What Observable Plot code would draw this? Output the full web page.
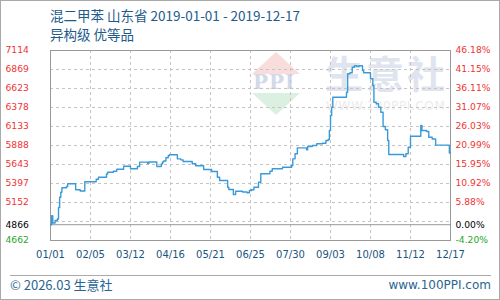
<!DOCTYPE html>
<html><head><meta charset="utf-8">
<script src="https://cdn.jsdelivr.net/npm/d3@7"></script>
<script src="https://cdn.jsdelivr.net/npm/@observablehq/plot@0.6"></script>
<style>
html,body{margin:0;padding:0;background:#fff;}
#wrap{position:relative;width:500px;height:300px;overflow:hidden;background:#fff;}
#chart{position:absolute;left:0;top:0;z-index:2;}
.abs{position:absolute;white-space:nowrap;}
.title{font-family:"Noto Sans CJK SC",sans-serif;font-size:13.5px;line-height:16px;color:#1e5b8c;}
.foot{font-family:"Noto Sans CJK SC",sans-serif;font-size:13px;line-height:16px;color:#2a6592;}
#border{position:absolute;left:0;top:0;width:500px;height:300px;box-sizing:border-box;border:1px solid #aaa;z-index:5;pointer-events:none;}
.wm{z-index:1;}
g[aria-label="pct"] text{letter-spacing:-0.5px;}
g[aria-label="xlab"] text{letter-spacing:0.2px;}
</style></head><body>
<div id="wrap">
  <div class="abs wm" style="left:252px;top:52px;width:0;height:0;border-left:24px solid transparent;border-right:24px solid transparent;border-bottom:22px solid #f9dcdc;"></div>
  <div class="abs wm" style="left:252px;top:93px;width:0;height:0;border-left:24px solid transparent;border-right:24px solid transparent;border-top:22px solid #dcf0e2;"></div>
  <div class="abs wm" style="left:253px;top:71px;font-family:'DejaVu Serif',serif;font-weight:bold;font-size:20px;line-height:22px;color:#d3d9e8;letter-spacing:1px;">PPI</div>
  <div class="abs wm" style="left:325px;top:50px;font-family:'Noto Sans CJK SC',sans-serif;font-weight:bold;font-size:38px;line-height:44px;color:#e0e4ee;letter-spacing:3px;">生意社</div>
  <div class="abs wm" style="left:326px;top:98px;font-family:'DejaVu Sans',sans-serif;font-size:12px;line-height:16px;color:#ebebeb;letter-spacing:0.6px;">WWW.100PPI.COM</div>
  <div id="chart"></div>
  <div class="abs title" style="left:50px;top:7px;z-index:3;">混二甲苯 山东省 2019-01-01 - 2019-12-17</div>
  <div class="abs title" style="left:50px;top:26px;z-index:3;">异构级 优等品</div>
  <div class="abs" style="left:10px;top:275px;width:481px;height:1px;background:#aaa;z-index:3;"></div>
  <div class="abs foot" style="left:10px;top:277px;z-index:3;">© 2026.03 生意社</div>
  <div class="abs foot" style="right:9px;top:277px;z-index:3;font-family:'DejaVu Sans',sans-serif;font-size:12px;">www.100PPI.com</div>
  <div id="border"></div>
</div>
<script>
// price series (change points, step-after)
const dates = ["01-01","01-02","01-03","01-05","01-07","01-08","01-09","01-10","01-11","01-15","01-16","01-23","01-27","01-31",
"02-10","02-12","02-19","02-20","02-25","02-28","03-06","03-12","03-18","03-20","03-27","03-28",
"04-04","04-08","04-09","04-10","04-12","04-14","04-15","04-22","04-25","04-27",
"05-05","05-08","05-15","05-22","05-27","05-29","06-05","06-06","06-10","06-12","06-18","06-22","06-24","06-26","06-28",
"07-02","07-04","07-12","07-14","07-23","07-31","08-01","08-03","08-05","08-13","08-14","08-18","08-22","08-27","08-30",
"09-01","09-02","09-03","09-04","09-05","09-17","09-18","09-20","09-22","09-24","09-26","09-28",
"10-01","10-02","10-08","10-10","10-11","10-13","10-15","10-17","10-19","10-21","10-23","10-24",
"11-06","11-08","11-10","11-12","11-21","11-22","11-26","11-28","12-01","12-04","12-16","12-17"];
const prices = [4866,4981,4888,4920,4940,5088,5221,5285,5342,5359,5394,5316,5301,5420,
5453,5479,5520,5543,5556,5582,5621,5587,5617,5673,5656,5675,
5617,5649,5675,5688,5729,5755,5768,5716,5703,5682,
5652,5626,5578,5553,5479,5436,5350,5320,5256,5298,5288,5278,5307,5316,5350,
5414,5523,5556,5587,5608,5630,5716,5781,5858,5833,5875,5888,5910,5918,5953,
5965,6082,6275,6382,6511,6576,6813,6826,6898,6917,6908,6917,
6856,6826,6749,6662,6447,6426,6382,6318,6133,6091,5953,5772,
5746,5781,5866,6008,6146,6082,6069,5995,5972,5893,5791,5791];

const xTickDates = ["2019-01-01","2019-02-05","2019-03-12","2019-04-16","2019-05-21","2019-06-25","2019-07-30","2019-09-03","2019-10-08","2019-11-12","2019-12-17"];
const xTickLabels = ["01/01","02/05","03/12","04/16","05/21","06/25","07/30","09/03","10/08","11/12","12/17"];
const yTickValues = [7114,6869,6623,6378,6133,5888,5643,5397,5152,4866,4662];
const yTickLabels = ["7114","6869","6623","6378","6133","5888","5643","5397","5152","4866","4662"];
const pctLabels = ["46.18%","41.15%","36.11%","31.07%","26.03%","20.99%","15.95%","10.92%","5.88%","0.00%","-4.20%"];
const gridValues = [6869,6623,6378,6133,5888,5643,5397,5152,4907];
const baseValue = 4866;

const data = dates.map((d,i)=>({date:new Date("2019-"+d), price:prices[i]}));
const xTicks = xTickDates.map((d,i)=>({date:new Date(d), label:xTickLabels[i]}));
const colorOf = (v)=> v>baseValue ? "#f03434" : (v===baseValue ? "#000" : "#2aa52a");
const yTicks = yTickValues.map((v,i)=>({v, label:yTickLabels[i], pct:pctLabels[i], c:colorOf(v)}));

const chart = Plot.plot({
  width:500, height:300,
  marginLeft:50, marginRight:50, marginTop:50, marginBottom:60,
  style:{background:"transparent", fontFamily:"'DejaVu Sans',sans-serif", fontSize:"9px", overflow:"visible"},
  x:{type:"utc", domain:[new Date("2019-01-01"), new Date("2019-12-17")], axis:null},
  y:{domain:[4662,7114], axis:null},
  color:{type:"identity"},
  marks:[
    Plot.ruleX(xTicks, {x:"date", stroke:"#c4c4c4", strokeDasharray:"3,3"}),
    Plot.ruleY(gridValues, {y:d=>d, stroke:"#c4c4c4", strokeDasharray:"3,3"}),
    Plot.ruleY([baseValue], {y:d=>d, stroke:"#999"}),
    Plot.frame({stroke:"#999"}),
    Plot.line(data, {x:"date", y:"price", curve:"step-after", stroke:"#3a9ad8", strokeWidth:1.4}),
    Plot.text(yTicks, {y:"v", text:"label", fill:"c", frameAnchor:"left", textAnchor:"start", dx:-45, fontSize:9.2, ariaLabel:"ylab"}),
    Plot.text(yTicks, {y:"v", text:"pct", fill:"c", frameAnchor:"right", textAnchor:"start", dx:5, fontSize:9.2, ariaLabel:"pct"}),
    Plot.text(xTicks, {x:"date", text:"label", fill:"#1a5580", frameAnchor:"bottom", dy:17, fontSize:10, ariaLabel:"xlab"})
  ]
});
document.getElementById("chart").appendChild(chart);
</script>
</body></html>
